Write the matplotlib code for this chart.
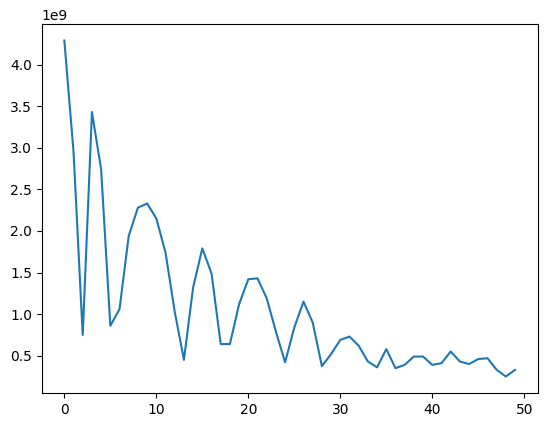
import matplotlib
matplotlib.use("Agg")
import matplotlib.pyplot as plt
import numpy as np

values = [4.29, 2.95, 0.75, 3.43, 2.74, 0.86, 1.06, 1.94, 2.28, 2.33,
          2.15, 1.74, 1.03, 0.45, 1.32, 1.79, 1.49, 0.64, 0.64, 1.12,
          1.42, 1.43, 1.19, 0.79, 0.42, 0.84, 1.15, 0.90, 0.375, 0.52,
          0.69, 0.73, 0.62, 0.43, 0.36, 0.58, 0.35, 0.39, 0.49, 0.49,
          0.39, 0.41, 0.55, 0.43, 0.40, 0.46, 0.47, 0.33, 0.25, 0.33]
y = np.array(values) * 1e9

fig = plt.figure(figsize=(5.47, 4.28), dpi=100)
ax = fig.add_axes([41.8/547, 34.7/428, 495.8/547, 369.6/428])
ax.plot(y)
fig.savefig("out.png", dpi=100)
